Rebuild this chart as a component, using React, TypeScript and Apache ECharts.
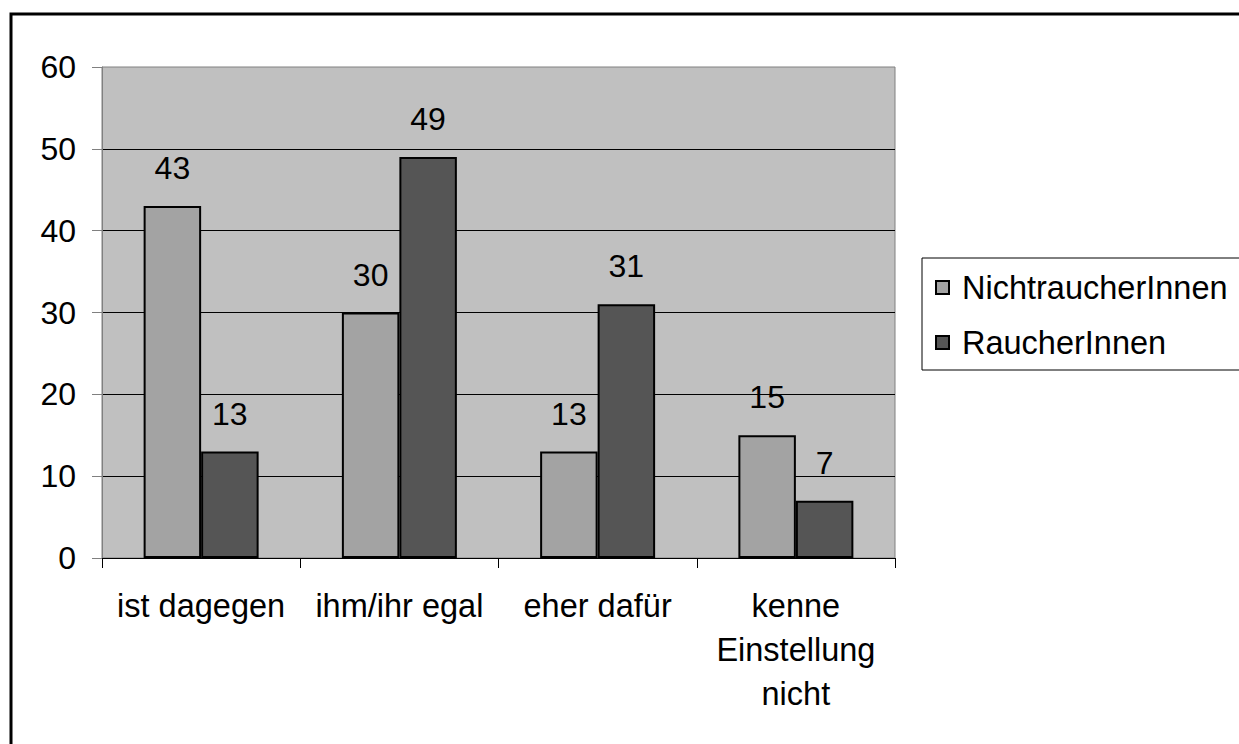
import React, { useEffect, useRef } from "react";
import * as echarts from "echarts";

const categories = ["ist dagegen", "ihm/ihr egal", "eher dafür", "kenne\nEinstellung\nnicht"];
const seriesNames = ["NichtraucherInnen", "RaucherInnen"];
const nichtraucher = [43, 30, 13, 15];
const raucher = [13, 49, 31, 7];
const yTicks = { min: 0, max: 60, interval: 10 };

const FONT = "'Liberation Sans', Arial, sans-serif";

export default function App() {
  const ref = useRef<HTMLDivElement>(null);
  useEffect(() => {
    if (!ref.current) return;
    const chart = echarts.init(ref.current, null, { renderer: "svg" });
    const labelStyle = {
      show: true,
      position: "top",
      distance: 22,
      color: "#000",
      fontSize: 32,
      fontFamily: FONT,
    };
    chart.setOption({
      animation: false,
      backgroundColor: "#fff",
      textStyle: { fontFamily: FONT },
      graphic: [
        {
          type: "rect",
          shape: { x: 11, y: 14, width: 1300, height: 800 },
          style: { fill: "none", stroke: "#000", lineWidth: 3 },
          z: 100,
        },
      ],
      grid: {
        left: 102,
        top: 67,
        width: 793,
        height: 491,
        show: true,
        backgroundColor: "#c0c0c0",
        borderColor: "#808080",
        borderWidth: 1,
      },
      legend: {
        orient: "vertical",
        left: 922,
        top: 258,
        data: seriesNames,
        icon: "rect",
        itemWidth: 13,
        itemHeight: 13,
        itemGap: 22,
        borderColor: "#000",
        borderWidth: 1,
        padding: [13, 40, 11, 13],
        textStyle: { fontSize: 32.5, color: "#000", fontFamily: FONT, padding: [0, 0, 0, 8] },
      },
      xAxis: {
        type: "category",
        data: categories,
        axisLine: { show: true, lineStyle: { color: "#000", width: 1 } },
        axisTick: { show: true, alignWithLabel: false, length: 10, lineStyle: { color: "#000" } },
        axisLabel: {
          color: "#000",
          fontSize: 32.5,
          fontFamily: FONT,
          margin: 26,
          lineHeight: 44,
          interval: 0,
        },
      },
      yAxis: {
        type: "value",
        min: yTicks.min,
        max: yTicks.max,
        interval: yTicks.interval,
        axisLine: { show: true, lineStyle: { color: "#808080", width: 1 } },
        axisTick: { show: true, length: 10, lineStyle: { color: "#808080" } },
        axisLabel: { color: "#000", fontSize: 32, fontFamily: FONT, margin: 26 },
        splitLine: { show: true, showMaxLine: false, lineStyle: { color: "#000", width: 1 } },
      },
      series: [
        {
          name: seriesNames[0],
          type: "bar",
          data: nichtraucher,
          barGap: "0%",
          barCategoryGap: "42%",
          itemStyle: { color: "#a3a3a3", borderColor: "#000", borderWidth: 2 },
          label: labelStyle,
        },
        {
          name: seriesNames[1],
          type: "bar",
          data: raucher,
          barGap: "0%",
          barCategoryGap: "42%",
          itemStyle: { color: "#555555", borderColor: "#000", borderWidth: 2 },
          label: labelStyle,
        },
      ],
    });
    return () => chart.dispose();
  }, []);
  return (
    <div
      ref={ref}
      style={{ position: "absolute", left: 0, top: 0, width: 1239, height: 744 }}
    />
  );
}
